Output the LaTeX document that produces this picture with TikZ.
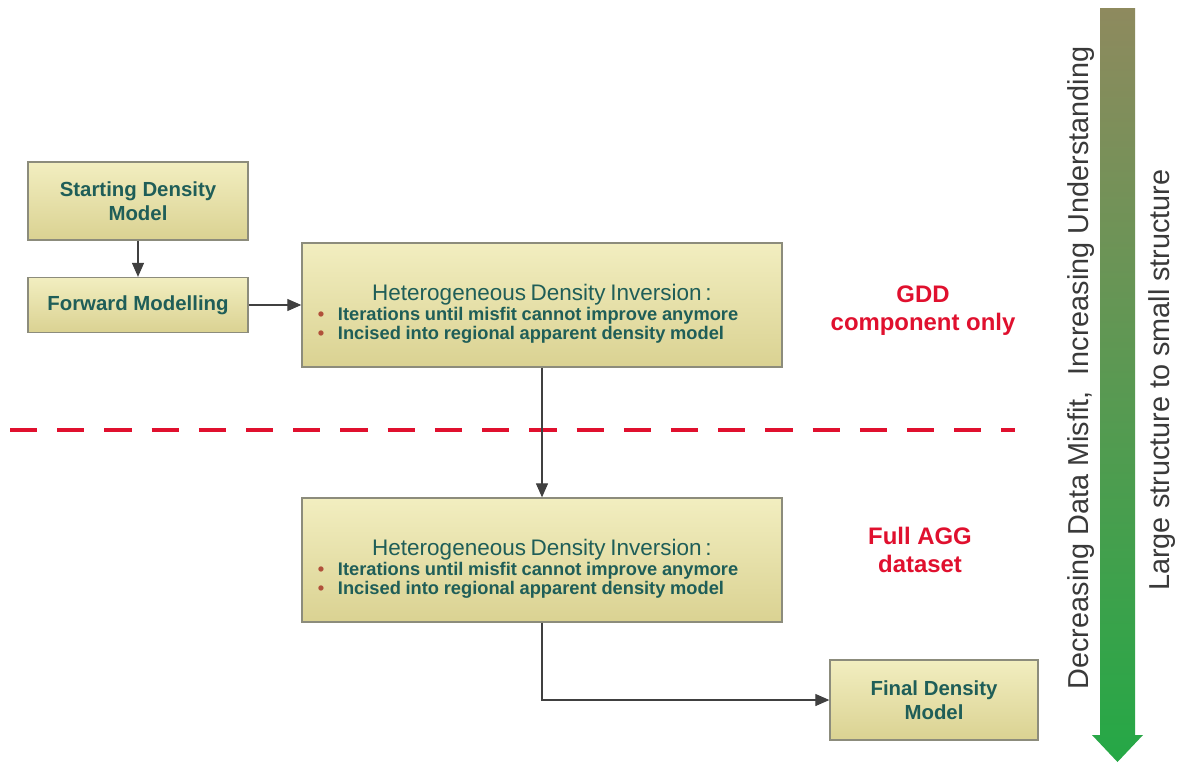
\documentclass[tikz,border=0pt]{standalone}
\usepackage{fontspec}
\setmainfont{Liberation Sans}
\usetikzlibrary{arrows.meta,positioning}

\definecolor{boxtext}{HTML}{1F5E58}
\definecolor{boxtop}{HTML}{F2EEC0}
\definecolor{boxbot}{HTML}{DAD292}
\definecolor{boxline}{HTML}{8C8C7C}
\definecolor{notered}{HTML}{E0102E}
\definecolor{bulletred}{HTML}{B0503A}
\definecolor{arrowtop}{HTML}{8E8A5E}
\definecolor{arrowbot}{HTML}{25A846}
\definecolor{sidetext}{HTML}{3A3A3A}

\tikzset{
 box/.style={draw=boxline, line width=0.9pt, top color=boxtop, bottom color=boxbot,
  text=boxtext, font=\fontsize{14.5}{17}\selectfont\bfseries, align=center,
  minimum width=5.5cm, inner sep=2pt},
 hdi/.style={box, font=\normalfont, text=boxtext, minimum height=3.1cm,
  text width=11.2cm, inner xsep=0.4cm, align=left},
 note/.style={text=notered, font=\fontsize{17}{20}\selectfont\bfseries, align=center},
 flow/.style={draw=black!75, line width=0.8pt, -{Triangle[width=0.3cm,length=0.35cm]}},
 side/.style={rotate=90, text=sidetext, font=\fontsize{20.5}{24}\selectfont}
}

\newcommand{\bulletitem}{\makebox[0.5cm][l]{\textcolor{bulletred}{\textbullet}}}
\newcommand{\hdibox}[2]{% name, position
 \node[hdi] (#1) at (#2) {%
  {\centering\fontsize{16}{18}\selectfont\rule{0pt}{0.85cm}Heterogeneous Density Inversion\,:\par}%
  {\fontsize{13}{14}\selectfont\bfseries
  \bulletitem Iterations until misfit cannot improve anymore\par
  \bulletitem Incised into regional apparent density model\par}%
 };%
}

\begin{document}
\begin{tikzpicture}[x=0.025cm, y=-0.025cm]
 \useasboundingbox[fill=white] (0,0) rectangle (1184,764);
 % boxes
 \node[box, minimum height=1.95cm] (start) at (138,201) {Starting Density\\Model};
 \node[box, minimum height=1.375cm] (fwd) at (138,305) {Forward Modelling};
 \hdibox{hdi1}{542,305}
 \hdibox{hdi2}{542,560}
 \node[box, minimum width=5.2cm, minimum height=2cm] (final) at (934,700) {Final Density\\Model};
 % notes
 \node[note] (gdd) at (923,311) {GDD\\component only};
 \node[note] (agg) at (920,550) {Full AGG\\dataset};
 % split line
 \coordinate (cutl) at (10,430);
 \coordinate (cutr) at (1015,430);
 \draw[notered, line width=2.8pt, dash pattern=on 0.68cm off 0.5cm] (cutl) -- (cutr);
 % connectors
 \draw[flow] (start) -- (fwd);
 \draw[flow] (fwd) -- (hdi1);
 \draw[flow] (hdi1) -- (hdi2);
 \draw[flow] (hdi2.south) |- (final.west);
 % side arrow
 \shade[top color=arrowtop, bottom color=arrowbot]
  (1100,8) -- (1135,8) -- (1135,735) -- (1143,735) -- (1117.5,762)
  -- (1092,735) -- (1100,735) -- cycle;
 \node[side] (misfit) at (1081,368) {Decreasing Data Misfit,\ \ Increasing Understanding};
 \node[side] (scale) at (1162,380) {Large structure to small structure};
\end{tikzpicture}
\end{document}
